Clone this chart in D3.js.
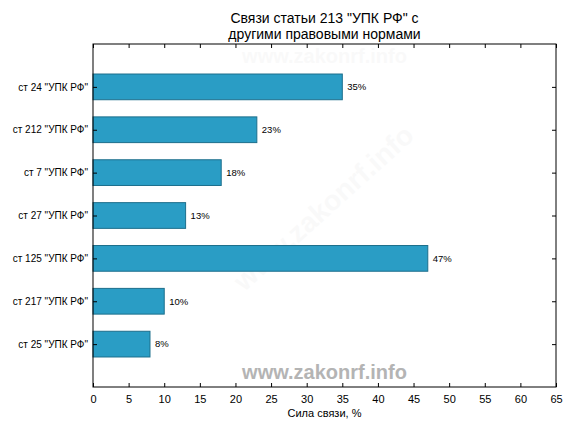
<!DOCTYPE html>
<html>
<head>
<meta charset="utf-8">
<script src="https://cdn.jsdelivr.net/npm/d3@7"></script>
<style>
body { margin: 0; background: #fff; }
text { font-family: "Liberation Sans", Arial, sans-serif; }
</style>
</head>
<body>
<script>
// chart data
var categories = ['ст 24 "УПК РФ"', 'ст 212 "УПК РФ"', 'ст 7 "УПК РФ"', 'ст 27 "УПК РФ"',
                  'ст 125 "УПК РФ"', 'ст 217 "УПК РФ"', 'ст 25 "УПК РФ"'];
var values = [35, 23, 18, 13, 47, 10, 8];
var xTicks = [0, 5, 10, 15, 20, 25, 30, 35, 40, 45, 50, 55, 60, 65];
var titleLines = ['Связи статьи 213 "УПК РФ" с', 'другими правовыми нормами'];

var width = 576,
    height = 432;

var margin = {left: 93, right: 20, top: 44, bottom: 45};
var x0 = margin.left, x1 = width - margin.right,
    y0 = margin.top, y1 = height - margin.bottom;

var svg = d3.select("body").append("svg")
    .attr("width", width)
    .attr("height", height);

var x = d3.scaleLinear().domain([0, 65]).range([x0, x1]);
// categories sit at positions 1..7 on a 0..8 axis
var y = d3.scaleLinear().domain([0, categories.length + 1]).range([y0, y1]);
var step = y(1) - y(0);
var barH = step * 0.6;

// faint watermarks inside the plot
svg.append("text")
    .attr("x", (x0 + x1) / 2).attr("y", 63)
    .attr("text-anchor", "middle")
    .attr("font-size", 20).attr("font-weight", "bold")
    .attr("fill", "#000").attr("opacity", 0.018)
    .text("www.zakonrf.info");
svg.append("text")
    .attr("transform", "translate(330,215) rotate(-42)")
    .attr("text-anchor", "middle")
    .attr("font-size", 28).attr("font-weight", "bold")
    .attr("fill", "#000").attr("opacity", 0.018)
    .text("www.zakonrf.info");

// bars
svg.append("g")
    .selectAll("rect")
    .data(values)
    .enter().append("rect")
    .attr("x", x(0))
    .attr("y", function(d, i) { return y(i + 1) - barH / 2; })
    .attr("width", function(d) { return x(d) - x(0); })
    .attr("height", barH)
    .attr("fill", "#2a9dc5")
    .attr("stroke", "#1d6f8c")
    .attr("stroke-width", 1);

// value labels
svg.append("g")
    .selectAll("text")
    .data(values)
    .enter().append("text")
    .attr("x", function(d) { return x(d) + 5; })
    .attr("y", function(d, i) { return y(i + 1); })
    .attr("dy", "0.35em")
    .attr("font-size", 9.5)
    .attr("fill", "#000")
    .text(function(d) { return d + "%"; });

// watermark at bottom
svg.append("text")
    .attr("x", (x0 + x1) / 2).attr("y", 379)
    .attr("text-anchor", "middle")
    .attr("font-size", 20).attr("font-weight", "bold")
    .attr("fill", "#b4b4b4")
    .text("www.zakonrf.info");

// axes with inward ticks on all four sides
var catPos = categories.map(function(c, i) { return i + 1; });

svg.append("g")
    .attr("transform", "translate(0," + y1 + ")")
    .call(d3.axisBottom(x).tickValues(xTicks).tickSizeInner(-4).tickSizeOuter(0).tickPadding(8))
    .call(function(g) {
        g.select(".domain").remove();
        g.selectAll("text").attr("font-size", 11).attr("font-family", "Liberation Sans, Arial, sans-serif");
    });

svg.append("g")
    .attr("transform", "translate(0," + y0 + ")")
    .call(d3.axisTop(x).tickValues(xTicks).tickSizeInner(-4).tickSizeOuter(0).tickFormat(""))
    .call(function(g) { g.select(".domain").remove(); });

svg.append("g")
    .attr("transform", "translate(" + x0 + ",0)")
    .call(d3.axisLeft(y).tickValues(catPos).tickSizeInner(-4).tickSizeOuter(0).tickPadding(5)
        .tickFormat(function(d) { return categories[d - 1]; }))
    .call(function(g) {
        g.select(".domain").remove();
        g.selectAll("text").attr("font-size", 10).attr("font-family", "Liberation Sans, Arial, sans-serif");
    });

svg.append("g")
    .attr("transform", "translate(" + x1 + ",0)")
    .call(d3.axisRight(y).tickValues(catPos).tickSizeInner(-4).tickSizeOuter(0).tickFormat(""))
    .call(function(g) { g.select(".domain").remove(); });

// frame
svg.append("rect")
    .attr("x", x0).attr("y", y0)
    .attr("width", x1 - x0).attr("height", y1 - y0)
    .attr("fill", "none").attr("stroke", "#000").attr("stroke-width", 1);

// title
svg.append("text")
    .attr("x", (x0 + x1) / 2).attr("y", 23)
    .attr("text-anchor", "middle")
    .attr("font-size", 14)
    .selectAll("tspan")
    .data(titleLines)
    .enter().append("tspan")
    .attr("x", (x0 + x1) / 2)
    .attr("dy", function(d, i) { return i ? 16 : 0; })
    .text(function(d) { return d; });

// x axis label
svg.append("text")
    .attr("x", (x0 + x1) / 2).attr("y", 417)
    .attr("text-anchor", "middle")
    .attr("font-size", 11)
    .text("Сила связи, %");
</script>
</body>
</html>
